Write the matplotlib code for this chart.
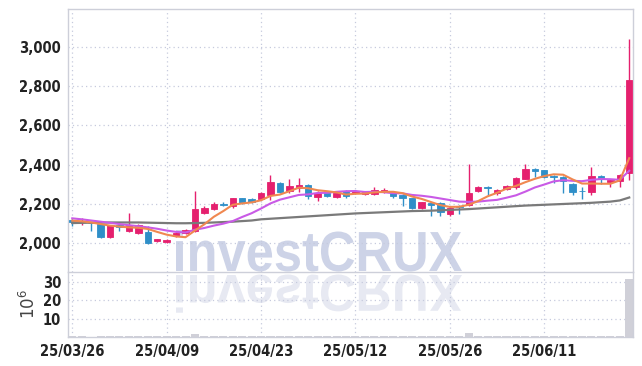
import matplotlib
matplotlib.use('Agg')
import matplotlib.pyplot as plt
import matplotlib.ticker as mticker
from matplotlib.textpath import TextPath
from matplotlib.patches import PathPatch
from matplotlib.font_manager import FontProperties
from matplotlib.transforms import Affine2D, IdentityTransform
import numpy as np

# trading days (KRX), labels shown every 10 sessions
dates = ['25/03/26', '25/03/27', '25/03/28', '25/03/31', '25/04/01', '25/04/02', '25/04/03', '25/04/04',
         '25/04/07', '25/04/08', '25/04/09', '25/04/10', '25/04/11', '25/04/14', '25/04/15', '25/04/16',
         '25/04/17', '25/04/18', '25/04/21', '25/04/22', '25/04/23', '25/04/24', '25/04/25', '25/04/28',
         '25/04/29', '25/04/30', '25/05/02', '25/05/07', '25/05/08', '25/05/09', '25/05/12', '25/05/13',
         '25/05/14', '25/05/15', '25/05/16', '25/05/19', '25/05/20', '25/05/21', '25/05/22', '25/05/23',
         '25/05/26', '25/05/27', '25/05/28', '25/05/29', '25/05/30', '25/06/02', '25/06/04', '25/06/05',
         '25/06/09', '25/06/10', '25/06/11', '25/06/12', '25/06/13', '25/06/16', '25/06/17', '25/06/18',
         '25/06/19', '25/06/20', '25/06/23', '25/06/24']

opens = [2118, 2107, 2105, 2100, 2032, 2095, 2065, 2052, 2055, 2010,
         2005, 2038, 2052, 2062, 2155, 2175, 2200, 2190, 2228, 2225,
         2226, 2245, 2308, 2265, 2283, 2298, 2236, 2254, 2236, 2268,
         2256, 2252, 2252, 2262, 2258, 2248, 2228, 2180, 2207, 2203,
         2150, 2192, 2195, 2268, 2288, 2258, 2275, 2285, 2328, 2380,
         2372, 2342, 2337, 2303, 2268, 2262, 2340, 2310, 2316, 2356]
highs = [2124, 2127, 2108, 2105, 2095, 2100, 2153, 2100, 2090, 2022,
         2020, 2055, 2072, 2265, 2190, 2210, 2210, 2232, 2232, 2228,
         2262, 2348, 2312, 2325, 2330, 2302, 2265, 2258, 2262, 2272,
         2270, 2265, 2285, 2282, 2262, 2250, 2232, 2212, 2212, 2208,
         2190, 2195, 2405, 2292, 2292, 2278, 2295, 2335, 2402, 2385,
         2375, 2345, 2340, 2305, 2285, 2387, 2345, 2325, 2352, 3040]
lows = [2088, 2092, 2065, 2025, 2028, 2062, 2055, 2048, 1995, 2005,
        2000, 2030, 2048, 2058, 2150, 2170, 2188, 2180, 2200, 2205,
        2220, 2222, 2255, 2255, 2260, 2225, 2215, 2236, 2232, 2230,
        2250, 2245, 2248, 2258, 2230, 2188, 2172, 2175, 2138, 2138,
        2140, 2150, 2190, 2262, 2245, 2245, 2270, 2278, 2325, 2335,
        2330, 2305, 2255, 2244, 2225, 2244, 2300, 2285, 2285, 2320]
closes = [2108, 2115, 2102, 2030, 2093, 2083, 2095, 2092, 2000, 2020,
          2015, 2050, 2068, 2172, 2182, 2202, 2196, 2228, 2205, 2210,
          2254, 2310, 2262, 2290, 2298, 2240, 2258, 2240, 2258, 2242,
          2264, 2260, 2272, 2272, 2240, 2230, 2178, 2208, 2195, 2160,
          2182, 2185, 2258, 2288, 2282, 2272, 2290, 2330, 2380, 2370,
          2338, 2337, 2318, 2262, 2265, 2340, 2328, 2322, 2345, 2830]

ma_short = [2115, 2112, 2106, 2098, 2090, 2085, 2081, 2079, 2073, 2058,
            2044, 2035, 2031, 2065, 2097, 2135, 2164, 2196, 2203, 2208,
            2219, 2241, 2248, 2265, 2283, 2280, 2270, 2265, 2259, 2248,
            2252, 2253, 2259, 2262, 2262, 2255, 2238, 2226, 2210, 2194,
            2185, 2186, 2196, 2215, 2239, 2257, 2278, 2292, 2311, 2328,
            2342, 2351, 2349, 2325, 2304, 2304, 2303, 2303, 2320, 2433]
ma_mid = [2127, 2122, 2116, 2110, 2104, 2098, 2092, 2087, 2081, 2074,
          2065, 2058, 2055, 2069, 2078, 2090, 2100, 2113, 2134, 2153,
          2177, 2203, 2222, 2234, 2246, 2249, 2256, 2257, 2262, 2265,
          2266, 2261, 2262, 2260, 2255, 2254, 2246, 2242, 2236, 2228,
          2220, 2212, 2211, 2212, 2217, 2221, 2232, 2244, 2263, 2284,
          2299, 2315, 2321, 2318, 2316, 2323, 2327, 2326, 2323, 2369]
ma_long = [2103, 2104, 2105, 2105, 2106, 2106, 2106, 2106, 2105, 2104,
           2103, 2102, 2102, 2103, 2104, 2106, 2108, 2110, 2113, 2116,
           2122, 2125, 2128, 2131, 2134, 2137, 2140, 2143, 2146, 2149,
           2152, 2154, 2156, 2158, 2160, 2162, 2164, 2165, 2166, 2168,
           2170, 2172, 2174, 2177, 2180, 2183, 2186, 2189, 2192, 2194,
           2196, 2198, 2200, 2202, 2204, 2206, 2209, 2212, 2218, 2233]

# volume in millions
volume = [0.3, 0.3, 0.2, 0.4, 0.3, 0.3, 0.4, 0.3, 0.4, 0.3,
          0.3, 0.3, 0.3, 1.4, 0.5, 0.4, 0.3, 0.4, 0.3, 0.3,
          0.4, 0.6, 0.4, 0.4, 0.4, 0.4, 0.3, 0.3, 0.3, 0.3,
          0.3, 0.3, 0.3, 0.3, 0.3, 0.3, 0.4, 0.3, 0.3, 0.4,
          0.3, 0.3, 2.4, 0.5, 0.4, 0.3, 0.3, 0.4, 0.5, 0.4,
          0.3, 0.3, 0.4, 0.4, 0.3, 0.5, 0.3, 0.3, 0.4, 31.5]

price_ticks = [2000, 2200, 2400, 2600, 2800, 3000]
volume_ticks = [10, 20, 30]

UP = '#e5206e'
DOWN = '#2f8fc8'
GRID = '#c6cadd'
SPINE = '#cdcfd9'
TXT = '#222222'
tick_font = FontProperties(family=['DejaVu Sans', 'Liberation Sans'], stretch='condensed',
                           weight='bold', size=10.5)

W, H = 642, 366
fig = plt.figure(figsize=(W / 100, H / 100), dpi=100)
fig.patch.set_facecolor('white')
ax1 = fig.add_axes([68 / W, (H - 272) / H, 565 / W, 263 / H])
ax2 = fig.add_axes([68 / W, (H - 337) / H, 565 / W, 65 / H], sharex=ax1)

x = np.arange(len(closes))
o = np.array(opens); c = np.array(closes)
cols = [UP if cc >= oo else DOWN for oo, cc in zip(o, c)]

# watermark + reflection (pixel coords)
wm = TextPath((0, 0), 'investCRUX', size=100,
              prop=FontProperties(family=['Liberation Sans', 'DejaVu Sans'], weight='bold'))
ext = wm.get_extents()
sx = 286 / ext.width
sy = 41 / ext.y1
t_main = Affine2D().translate(-ext.x0, 0).scale(sx, sy).translate(176, H - 271)
t_refl = Affine2D().translate(-ext.x0, 0).scale(sx, -sy * 0.92).translate(176, H - 275)
fig.add_artist(PathPatch(t_main.transform_path(wm), facecolor='#cdd3e7', edgecolor='none',
                         transform=IdentityTransform(), zorder=-1))
fig.add_artist(PathPatch(t_refl.transform_path(wm), facecolor='#e7e9f2', edgecolor='none',
                         transform=IdentityTransform(), zorder=-1))

# candles
ax1.vlines(x, lows, highs, colors=cols, linewidth=1.0, zorder=2)
ax1.bar(x, c - o, bottom=o, width=0.68, color=cols, edgecolor=cols, linewidth=0.6, zorder=3)

ax1.plot(x, ma_long, color='#7a7a7a', lw=1.6, zorder=4)
ax1.plot(x, ma_mid, color='#c95ae6', lw=1.5, zorder=5)
ax1.plot(x, ma_short, color='#f08850', lw=1.5, zorder=6)

ax2.bar(x, volume, width=0.85, color='#d0d0d8', zorder=2)

tick_pos = x[::10]
for ax in (ax1, ax2):
    ax.set_facecolor('none')
    ax.grid(True, linestyle=(0, (1, 2.5)), color=GRID, linewidth=0.9)
    ax.set_axisbelow(True)
    ax.tick_params(length=0, pad=5, colors=TXT)
    for s in ax.spines.values():
        s.set_color(SPINE)
        s.set_linewidth(1.0)

ax1.set_xlim(-0.45, 59.4)
ax1.set_ylim(1854, 3192)
ax1.set_yticks(price_ticks)
ax1.yaxis.set_major_formatter(mticker.FuncFormatter(lambda v, p: f'{int(v):,}'))
ax1.set_xticks(tick_pos)
ax1.tick_params(axis='x', labelbottom=False)

ax2.set_ylim(0, 35.3)
ax2.set_yticks(volume_ticks)
ax2.set_xticks(tick_pos)
ax2.set_xticklabels([dates[i] for i in tick_pos])
ax2.spines['top'].set_visible(False)
ax2.set_ylabel(r'$10^6$', fontsize=12, color='#444444', labelpad=3)

for ax in (ax1, ax2):
    for lbl in ax.get_yticklabels() + ax.get_xticklabels():
        lbl.set_fontproperties(tick_font)
        lbl.set_color(TXT)

fig.savefig('out.png', dpi=100)
